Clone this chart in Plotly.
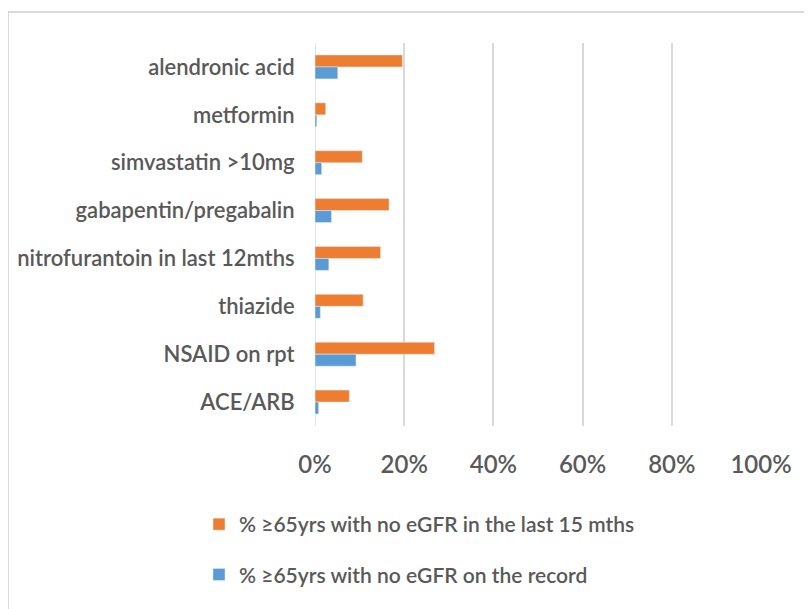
import plotly.graph_objects as go

categories = ["alendronic acid", "metformin", "simvastatin >10mg", "gabapentin/pregabalin",
              "nitrofurantoin in last 12mths", "thiazide", "NSAID on rpt", "ACE/ARB"]
no_egfr_15m = [0.196, 0.024, 0.106, 0.166, 0.147, 0.108, 0.268, 0.077]
no_egfr_record = [0.051, 0.004, 0.015, 0.037, 0.031, 0.012, 0.092, 0.008]
series_names = ["% \u226565yrs with no eGFR in the last 15 mths", "% \u226565yrs with no eGFR on the record"]
x_ticks = [0, 0.2, 0.4, 0.6, 0.8, 1.0]
x_tick_labels = ["0%", "20%", "40%", "60%", "80%", "100%"]

FONT = "Lato, Open Sans, sans-serif"
TXT = "#595959"
WT = 600

fig = go.Figure()
fig.add_trace(go.Bar(y=categories, x=no_egfr_15m, orientation="h", name=series_names[0],
                     marker=dict(color="#ED7D31"), legendgroup="a"))
fig.add_trace(go.Bar(y=categories, x=no_egfr_record, orientation="h", name=series_names[1],
                     marker=dict(color="#5B9BD5"), legendgroup="b"))

# page body has an 8px margin, so figure coords = screenshot coords - 8
L, R, T, B = 307, 59, 35, 191
W, H = 812, 609
pw, ph = W - L - R, H - T - B

def px2x(p):
    return (p - L) / pw

def py2y(p):
    return 1 - (p - T) / ph

fig.update_layout(
    width=W, height=H,
    margin=dict(l=L, r=R, t=T, b=B, autoexpand=False),
    paper_bgcolor="white", plot_bgcolor="white",
    barmode="group", bargap=0.5, bargroupgap=0,
    font=dict(family=FONT, color=TXT, weight=WT),
    showlegend=True,
    legend=dict(orientation="v", x=px2x(191), xanchor="left", y=py2y(496), yanchor="top",
                font=dict(size=21, color=TXT, family=FONT, weight=WT), tracegroupgap=20,
                itemwidth=30, bgcolor="rgba(0,0,0,0)"),
    xaxis=dict(range=[0, 1], tickvals=x_ticks, ticktext=x_tick_labels,
               showgrid=True, gridcolor="#d9d9d9", gridwidth=1.5,
               zeroline=False, showline=False, automargin=False,
               ticks="outside", ticklen=17, tickcolor="rgba(0,0,0,0)",
               tickfont=dict(size=24, color=TXT, family=FONT, weight=WT), fixedrange=True),
    yaxis=dict(autorange="reversed", showgrid=False, zeroline=False, showline=False,
               automargin=False,
               ticks="outside", ticklen=15, tickcolor="rgba(0,0,0,0)",
               tickfont=dict(size=22, color=TXT, family=FONT, weight=WT), fixedrange=True),
    shapes=[
        dict(type="line", xref="paper", yref="paper", x0=px2x(0), x1=px2x(820),
             y0=py2y(4), y1=py2y(4), line=dict(color="#d9d9d9", width=2)),
        dict(type="line", xref="paper", yref="paper", x0=px2x(0), x1=px2x(0),
             y0=py2y(4), y1=py2y(620), line=dict(color="#d9d9d9", width=2)),
        dict(type="line", xref="x", yref="paper", x0=0, x1=0, y0=0, y1=1,
             line=dict(color="#d9d9d9", width=1.5), layer="below"),
    ],
)

fig.write_html("out.html")
